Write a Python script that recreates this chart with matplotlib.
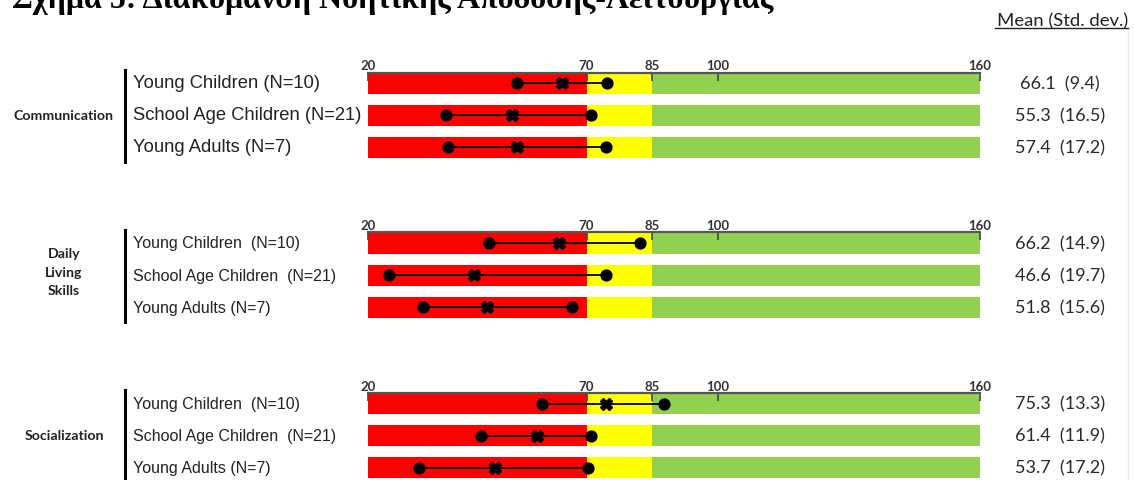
import matplotlib
matplotlib.use("Agg")
import matplotlib.pyplot as plt
from matplotlib.lines import Line2D

# περιοχές κλίμακας
zone_bounds = [20, 70, 85, 160]
zone_colors = ['#ff0000', '#ffff00', '#92d050']
tick_values = [20, 70, 85, 100, 160]

group_names = ['Communication', 'Daily\nLiving\nSkills', 'Socialization']
row_labels = [
    ['Young Children (N=10)', 'School Age Children (N=21)', 'Young Adults (N=7)'],
    ['Young Children  (N=10)', 'School Age Children  (N=21)', 'Young Adults (N=7)'],
    ['Young Children  (N=10)', 'School Age Children  (N=21)', 'Young Adults (N=7)'],
]
means = [[66.1, 55.3, 57.4], [66.2, 46.6, 51.8], [75.3, 61.4, 53.7]]
sds = [[9.4, 16.5, 17.2], [14.9, 19.7, 15.6], [13.3, 11.9, 17.2]]
# θέσεις σημείων όπως φαίνονται στο σχήμα
low_pts = [[54.1, 37.8, 38.3], [47.6, 24.8, 32.5], [59.8, 45.9, 31.7]]
mid_pts = [[64.4, 53.0, 54.1], [63.8, 44.2, 47.3], [74.5, 58.6, 49.1]]
high_pts = [[74.6, 70.9, 74.5], [82.2, 74.5, 66.6], [87.7, 70.9, 70.3]]

title = 'Σχήμα 5: Διακύμανση Νοητικής Απόδοσης-Λειτουργίας'

W, H = 1134, 481
fig = plt.figure(figsize=(W / 100, H / 100), dpi=100)


def fx(x):
    return x / W


def fy(y):
    return 1 - y / H


# τίτλος (κομμένος στο πάνω μέρος)
fig.text(fx(12), fy(8), title, family='Liberation Serif', weight='bold',
         fontsize=23, va='baseline', ha='left', color='black')

# επικεφαλίδα δεξιά
fig.text(fx(1128), fy(21), 'Mean (Std. dev.)', family='Lato', fontsize=13.3,
         ha='right', va='center', color='#222222')
fig.add_artist(Line2D([fx(995), fx(1128)], [fy(29), fy(29)], color='#222222', lw=1.0))
fig.add_artist(Line2D([fx(1128), fx(1128)], [fy(33), fy(481)], color='#e8e8e8', lw=1.0))

row_gap = 32
bar_h = 21
first_row_y = [84, 244, 404.5]
label_sizes = [13.2, 11.5, 11.5]

for g in range(3):
    top = first_row_y[g] - bar_h / 2
    half = bar_h / 2 / row_gap
    height_px = 2 * row_gap + bar_h
    ax = fig.add_axes([fx(368), fy(top + height_px), (980 - 368) / W, height_px / H])
    rows = list(range(3))
    for i in range(3):
        ax.barh(rows, zone_bounds[i + 1] - zone_bounds[i], left=zone_bounds[i],
                height=bar_h / row_gap, color=zone_colors[i], zorder=1)
    for r in rows:
        ax.plot([low_pts[g][r], high_pts[g][r]], [r, r], color='black', lw=1.3, zorder=3)
        ax.plot([low_pts[g][r], high_pts[g][r]], [r, r], 'o', color='black', ms=7.8, zorder=4,
                clip_on=False)
        ax.plot(mid_pts[g][r], r, 'X', color='black', ms=8.5, zorder=4, clip_on=False)
    ax.set_xlim(zone_bounds[0], zone_bounds[-1])
    ax.set_ylim(2 + half, -half)
    for s in ['left', 'right', 'bottom']:
        ax.spines[s].set_visible(False)
    ax.spines['top'].set_color('#555555')
    ax.spines['top'].set_linewidth(1.6)
    ax.spines['top'].set_zorder(5)
    ax.xaxis.tick_top()
    ax.set_xticks(tick_values)
    ax.set_xticklabels([str(t) for t in tick_values], family='Lato', weight='bold',
                       fontsize=9.5, color='#333333')
    ax.tick_params(axis='x', direction='in', length=6, width=1.2, color='#444444', pad=1)
    ax.set_yticks([])
    ax.patch.set_alpha(0)

    # ετικέτες γραμμών και τιμές
    for r in rows:
        y = first_row_y[g] + r * row_gap
        fig.text(fx(133), fy(y), row_labels[g][r], family='Liberation Sans',
                 fontsize=label_sizes[g], ha='left', va='center', color='#222222')
        fig.text(fx(1060), fy(y), f'{means[g][r]:.1f}  ({sds[g][r]:.1f})', family='Lato',
                 fontsize=13, ha='center', va='center', color='#2a2a2a')

    # κάθετη γραμμή ομάδας
    fig.add_artist(Line2D([fx(125), fx(125)], [fy(top - 3), fy(top + height_px + 4)],
                          color='black', lw=2.2))
    gy = first_row_y[g] + row_gap
    fig.text(fx(64), fy(gy - 3 if g == 1 else gy), group_names[g], family='Lato',
             weight='bold', fontsize=10.2, ha='center', va='center', color='#222222',
             linespacing=1.65)

fig.savefig('out.png', dpi=100)
